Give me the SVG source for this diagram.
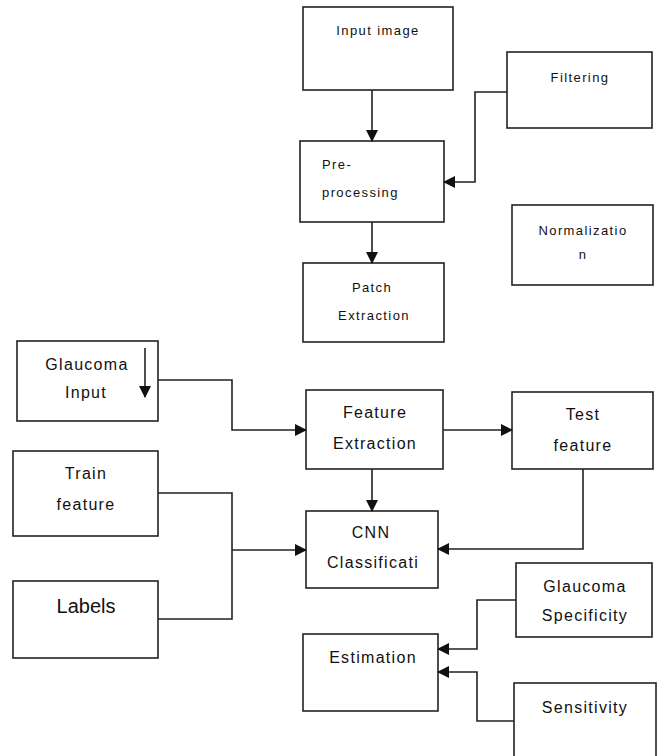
<svg xmlns="http://www.w3.org/2000/svg" width="659" height="756" viewBox="0 0 659 756">
<defs>
<style>
.box{fill:#fff;stroke:#222;stroke-width:1.6}
.c{fill:none;stroke:#222;stroke-width:1.6}
.s{font-family:"Liberation Sans",Arial,sans-serif;font-size:13px;letter-spacing:1.4px;fill:#111}
.m{font-family:"Liberation Sans",Arial,sans-serif;font-size:16px;letter-spacing:1.3px;fill:#111}
.l{font-family:"Liberation Sans",Arial,sans-serif;font-size:20px;fill:#111}
.mid{text-anchor:middle}
</style>
<marker id="ah" markerUnits="userSpaceOnUse" markerWidth="12" markerHeight="12" refX="11" refY="6" orient="auto" viewBox="0 0 12 12">
<path d="M0,0 L12,6 L0,12 z" fill="#111"/>
</marker>
</defs>
<rect width="659" height="756" fill="#fff"/>
<g id="input-image"><rect class="box" x="303" y="7" width="150" height="83"/><text class="s mid" x="378" y="35">Input image</text></g>
<g id="filtering"><rect class="box" x="507" y="52" width="145" height="76"/><text class="s mid" x="580" y="82">Filtering</text></g>
<g id="preprocessing"><rect class="box" x="300" y="141" width="144" height="81"/><text class="s" x="322" y="169">Pre-</text><text class="s" x="322" y="197">processing</text></g>
<g id="normalization"><rect class="box" x="512" y="205" width="141" height="80"/><text class="s mid" x="583" y="235">Normalizatio</text><text class="s mid" x="583" y="259">n</text></g>
<g id="patch-extraction"><rect class="box" x="303" y="263" width="141" height="79"/><text class="s mid" x="372" y="292">Patch</text><text class="s mid" x="374" y="320">Extraction</text></g>
<g id="glaucoma-input"><rect class="box" x="17" y="341" width="141" height="80"/><text class="m mid" x="87" y="370">Glaucoma</text><text class="m mid" x="86" y="398">Input</text><path class="c" d="M145,348 V397" marker-end="url(#ah)"/></g>
<g id="train-feature"><rect class="box" x="13" y="451" width="145" height="85"/><text class="m mid" x="86" y="479">Train</text><text class="m mid" x="86" y="510">feature</text></g>
<g id="labels"><rect class="box" x="13" y="581" width="145" height="77"/><text class="l mid" x="86" y="613">Labels</text></g>
<g id="feature-extraction"><rect class="box" x="306" y="390" width="137" height="79"/><text class="m mid" x="375" y="418">Feature</text><text class="m mid" x="375" y="449">Extraction</text></g>
<g id="test-feature"><rect class="box" x="512" y="392" width="141" height="77"/><text class="m mid" x="583" y="420">Test</text><text class="m mid" x="583" y="451">feature</text></g>
<g id="cnn"><rect class="box" x="306" y="511" width="132" height="77"/><text class="m mid" x="371" y="538">CNN</text><text class="m mid" x="373" y="568">Classificati</text></g>
<g id="glaucoma-specificity"><rect class="box" x="516" y="563" width="136" height="74"/><text class="m mid" x="585" y="592">Glaucoma</text><text class="m mid" x="585" y="621">Specificity</text></g>
<g id="estimation"><rect class="box" x="303" y="634" width="135" height="77"/><text class="m mid" x="373" y="663">Estimation</text></g>
<g id="sensitivity"><rect class="box" x="514" y="683" width="142" height="80"/><text class="m mid" x="585" y="713">Sensitivity</text></g>
<g id="connectors">
<path class="c" d="M372,90 V141" marker-end="url(#ah)"/>
<path class="c" d="M507,92 H475 V182 H444" marker-end="url(#ah)"/>
<path class="c" d="M372,222 V263" marker-end="url(#ah)"/>
<path class="c" d="M158,380 H232 V430 H306" marker-end="url(#ah)"/>
<path class="c" d="M158,493 H232 V619 H158"/>
<path class="c" d="M232,550 H306" marker-end="url(#ah)"/>
<path class="c" d="M443,430 H512" marker-end="url(#ah)"/>
<path class="c" d="M372,469 V511" marker-end="url(#ah)"/>
<path class="c" d="M583,469 V549 H438" marker-end="url(#ah)"/>
<path class="c" d="M516,600 H477 V649 H438" marker-end="url(#ah)"/>
<path class="c" d="M514,721 H477 V672 H438" marker-end="url(#ah)"/>
</g>
</svg>
